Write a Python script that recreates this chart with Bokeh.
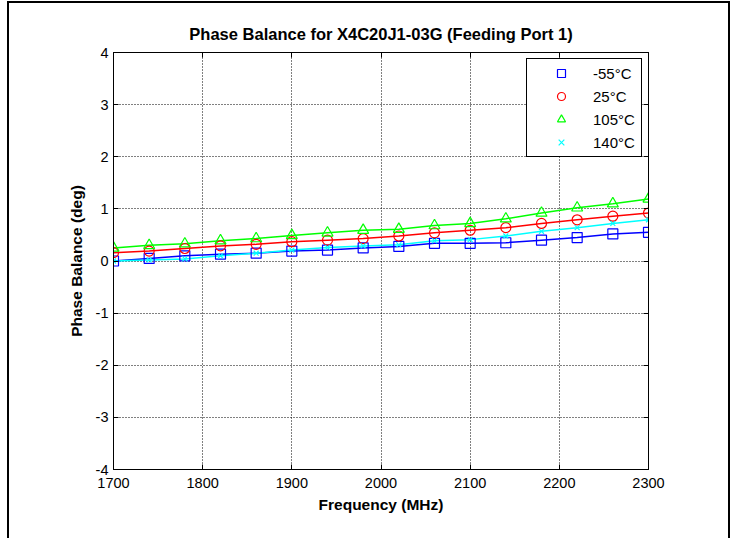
from bokeh.plotting import figure
from bokeh.models import (LinearAxis, Range1d, FixedTicker, Legend, LegendItem,
                          ColumnDataSource)
from bokeh.embed import file_html
from bokeh.resources import INLINE

# ---- data ----
freq = [1700, 1740, 1780, 1820, 1860, 1900, 1940, 1980, 2020, 2060, 2100, 2140, 2180, 2220, 2260, 2300]
m55 = [0.00, 0.05, 0.10, 0.13, 0.15, 0.19, 0.21, 0.25, 0.28, 0.34, 0.34, 0.35, 0.40, 0.45, 0.52, 0.55]
p25 = [0.16, 0.19, 0.24, 0.29, 0.32, 0.37, 0.40, 0.43, 0.48, 0.54, 0.59, 0.64, 0.72, 0.79, 0.86, 0.92]
p105 = [0.25, 0.30, 0.33, 0.39, 0.43, 0.49, 0.54, 0.59, 0.61, 0.68, 0.72, 0.81, 0.92, 1.02, 1.10, 1.19]
p140 = [0.00, 0.02, 0.04, 0.10, 0.15, 0.21, 0.26, 0.29, 0.31, 0.39, 0.41, 0.48, 0.57, 0.64, 0.72, 0.79]

series_names = ["-55°C", "25°C", "105°C", "140°C"]
x_ticks = [1700, 1800, 1900, 2000, 2100, 2200, 2300]
y_ticks = [-4, -3, -2, -1, 0, 1, 2, 3, 4]
y_tick_labels = ["-4", "-3", "-2", "-1", "0", "1", "2", "3", "4"]

FONT = "Liberation Sans"

p = figure(width=736, height=538, output_backend="svg", toolbar_location=None,
           x_range=Range1d(1700, 2300), y_range=Range1d(-4, 4),
           min_border_left=113, min_border_right=88, min_border_top=52, min_border_bottom=69,
           title="Phase Balance for X4C20J1-03G (Feeding Port 1)")
p.background_fill_color = "white"
p.border_fill_color = None
p.outline_line_color = "black"
p.outline_line_width = 1

# outer frame of the exported figure (left, right and top edges)
p.styles = {
    "background-color": "white",
    "background-image": "linear-gradient(#000,#000), linear-gradient(#000,#000), linear-gradient(#000,#000)",
    "background-position": "7px 1px, 728px 1px, 7px 1px",
    "background-size": "2px 100%, 2px 100%, 723px 2px",
    "background-repeat": "no-repeat",
}

p.title.align = "center"
p.title.text_font = FONT
p.title.text_font_size = "16.5px"
p.title.text_font_style = "bold"
p.title.text_color = "black"
p.title.standoff = 20

xt = FixedTicker(ticks=x_ticks)
yt = FixedTicker(ticks=y_ticks)

def style_axis(ax, show_labels):
    ax.axis_line_color = "black"
    ax.major_tick_in = 5
    ax.major_tick_out = 0
    ax.major_tick_line_color = "black"
    ax.minor_tick_line_color = None
    ax.major_label_text_font = FONT
    if show_labels:
        ax.major_label_text_color = "black"
        ax.major_label_text_font_size = "14.5px"
    else:
        ax.major_label_text_color = None
        ax.major_label_text_font_size = "1px"
        ax.major_label_standoff = 0

xa = p.xaxis[0]
xa.ticker = xt
style_axis(xa, True)
xa.major_label_standoff = 8
xa.axis_label = "Frequency (MHz)"
xa.axis_label_text_font = FONT
xa.axis_label_text_font_size = "15.5px"
xa.axis_label_text_font_style = "bold"
xa.axis_label_text_color = "black"
xa.axis_label_standoff = 5

ya = p.yaxis[0]
ya.ticker = yt
style_axis(ya, True)
ya.major_label_standoff = 5
ya.major_label_overrides = {t: l for t, l in zip(y_ticks, y_tick_labels)}
ya.axis_label = "Phase Balance (deg)"
ya.axis_label_text_font = FONT
ya.axis_label_text_font_size = "15.5px"
ya.axis_label_text_font_style = "bold"
ya.axis_label_text_color = "black"
ya.axis_label_standoff = 8

top_ax = LinearAxis(ticker=xt)
style_axis(top_ax, False)
p.add_layout(top_ax, "above")
right_ax = LinearAxis(ticker=yt)
style_axis(right_ax, False)
p.add_layout(right_ax, "right")

p.xgrid.ticker = xt
p.ygrid.ticker = yt
for g in (p.xgrid[0], p.ygrid[0]):
    g.grid_line_color = "black"
    g.grid_line_dash = "1 2"
    g.grid_line_width = 1

src = ColumnDataSource(dict(freq=freq, m55=m55, p25=p25, p105=p105, p140=p140))

colors = ["#0000FF", "#FF0000", "#00FF00", "#00FFFF"]
cols = ["m55", "p25", "p105", "p140"]
markers = ["square", "circle", "triangle", "x"]
sizes = [10, 10, 11, 7]

items = []
for col, c in zip(cols, colors):
    p.line("freq", col, source=src, line_color=c, line_width=1.5)
for col, c, mk, sz, nm in zip(cols, colors, markers, sizes, series_names):
    r = p.scatter("freq", col, source=src, marker=mk, size=sz, fill_color=None,
                  line_color=c, line_width=1.2)
    items.append(LegendItem(label=nm, renderers=[r]))

leg = Legend(items=items, location=(413, 312))
leg.border_line_color = "black"
leg.border_line_width = 1
leg.border_line_alpha = 1
leg.background_fill_color = "white"
leg.background_fill_alpha = 1
leg.label_text_font = FONT
leg.label_text_font_size = "15px"
leg.label_text_color = "black"
leg.glyph_width = 60
leg.glyph_height = 20
leg.label_height = 20
leg.label_width = 44
leg.label_standoff = 2
leg.spacing = 3
leg.padding = 4
leg.margin = 0
p.add_layout(leg, "center")

open("out.html", "w").write(file_html(p, INLINE))
